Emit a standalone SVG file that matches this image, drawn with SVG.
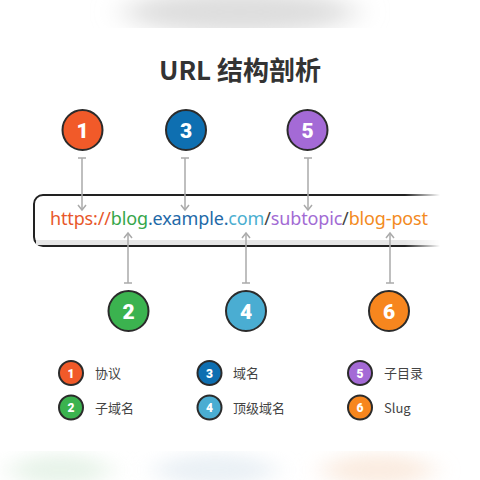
<svg xmlns="http://www.w3.org/2000/svg" width="480" height="480" viewBox="0 0 480 480">
<defs>
<style>
.num{font-family:"Roboto","DejaVu Sans",sans-serif;font-weight:900;fill:#fff;text-anchor:middle}
.big{font-size:21px}
.small{font-size:12px}
.node circle{stroke:#2b2b2b;stroke-width:2}
.lg text.lab{font-family:"Noto Sans CJK SC","Noto Sans",sans-serif;font-size:13px;fill:#444}
.conn line{stroke:#aaaaaa;stroke-width:1.5;fill:none}
.conn path{stroke:#aaaaaa;stroke-width:1.5;fill:none}
</style>
<filter id="blur" x="-50%" y="-100%" width="200%" height="300%"><feGaussianBlur stdDeviation="16 10"/></filter>
<filter id="blur2" x="-50%" y="-100%" width="200%" height="300%"><feGaussianBlur stdDeviation="14 8"/></filter>
<clipPath id="topclip"><rect x="0" y="0" width="480" height="28"/></clipPath>
<clipPath id="botclip"><rect x="0" y="451" width="480" height="29"/></clipPath>
<linearGradient id="fade" x1="0" y1="0" x2="1" y2="0">
<stop offset="0.92" stop-color="#fff"/>
<stop offset="1" stop-color="#fff" stop-opacity="0"/>
</linearGradient>
<mask id="boxmask" maskUnits="userSpaceOnUse" x="0" y="180" width="480" height="80">
<rect x="0" y="180" width="440" height="80" fill="url(#fade)"/>
</mask>
</defs>
<rect width="480" height="480" fill="#ffffff"/>
<g clip-path="url(#topclip)">
<ellipse cx="240" cy="12" rx="115" ry="22" fill="#dedede" filter="url(#blur)"/>
</g>
<g clip-path="url(#botclip)" opacity="0.6">
<ellipse cx="60" cy="470" rx="50" ry="16" fill="#d9ecdc" filter="url(#blur2)"/>
<ellipse cx="215" cy="470" rx="60" ry="16" fill="#dde7ef" filter="url(#blur2)"/>
<ellipse cx="378" cy="470" rx="55" ry="16" fill="#f8e0cd" filter="url(#blur2)"/>
</g>
<text x="240" y="80" text-anchor="middle" font-family="'Noto Sans CJK SC','Noto Sans',sans-serif" font-weight="700" font-size="26" fill="#333">URL 结构剖析</text>
<g id="urlbox" mask="url(#boxmask)">
<rect x="34" y="195" width="460" height="51" rx="9" fill="#fff" stroke="#222" stroke-width="2"/>
<rect x="36" y="240" width="456" height="5" fill="#e6e6e6"/>
</g>
<text id="url" x="50" y="225" textLength="378" lengthAdjust="spacing" font-family="'Noto Sans','Liberation Sans',sans-serif" font-size="18"><tspan fill="#e8582b">https://</tspan><tspan fill="#35a64a">blog</tspan><tspan fill="#1f6aa8">.example.</tspan><tspan fill="#4aaed0">com</tspan><tspan fill="#444">/</tspan><tspan fill="#a26bd4">subtopic</tspan><tspan fill="#444">/</tspan><tspan fill="#f38a22">blog-post</tspan></text>
<g id="connectors" class="conn">
<line x1="82" y1="158" x2="82" y2="210"/><line x1="78" y1="158" x2="86" y2="158"/><path d="M78 205 L82 210 L86 205"/>
<line x1="185" y1="158" x2="185" y2="210"/><line x1="181" y1="158" x2="189" y2="158"/><path d="M181 205 L185 210 L189 205"/>
<line x1="308" y1="158" x2="308" y2="210"/><line x1="304" y1="158" x2="312" y2="158"/><path d="M304 205 L308 210 L312 205"/>
<line x1="128" y1="233" x2="128" y2="283"/><line x1="124" y1="283" x2="132" y2="283"/><path d="M124 238 L128 233 L132 238"/>
<line x1="246" y1="233" x2="246" y2="283"/><line x1="242" y1="283" x2="250" y2="283"/><path d="M242 238 L246 233 L250 238"/>
<line x1="390" y1="233" x2="390" y2="283"/><line x1="386" y1="283" x2="394" y2="283"/><path d="M386 238 L390 233 L394 238"/>
</g>
<g id="n1" class="node"><circle cx="82.5" cy="130" r="20" fill="#f15a29"/><text class="num big" x="82.5" y="137.5">1</text></g>
<g id="n3" class="node"><circle cx="186" cy="130" r="20" fill="#0e6fb1"/><text class="num big" x="186" y="137.5">3</text></g>
<g id="n5" class="node"><circle cx="307.5" cy="130" r="20" fill="#a46ad6"/><text class="num big" x="307.5" y="137.5">5</text></g>
<g id="n2" class="node"><circle cx="128.5" cy="311" r="20" fill="#3bb34f"/><text class="num big" x="128.5" y="318.5">2</text></g>
<g id="n4" class="node"><circle cx="246" cy="311" r="20" fill="#4aadd2"/><text class="num big" x="246" y="318.5">4</text></g>
<g id="n6" class="node"><circle cx="389" cy="311" r="20" fill="#f7861e"/><text class="num big" x="389" y="318.5">6</text></g>
<g id="legend" class="lg">
<g id="l1" class="node"><circle cx="71" cy="373" r="12" fill="#f15a29"/><text class="num small" x="71" y="377.5">1</text><text class="lab" x="95" y="378">协议</text></g>
<g id="l2" class="node"><circle cx="71" cy="407.5" r="12" fill="#3bb34f"/><text class="num small" x="71" y="412">2</text><text class="lab" x="95" y="412.5">子域名</text></g>
<g id="l3" class="node"><circle cx="209.5" cy="373" r="12" fill="#0e6fb1"/><text class="num small" x="209.5" y="377.5">3</text><text class="lab" x="233" y="378">域名</text></g>
<g id="l4" class="node"><circle cx="209.5" cy="407.5" r="12" fill="#4aadd2"/><text class="num small" x="209.5" y="412">4</text><text class="lab" x="233" y="412.5">顶级域名</text></g>
<g id="l5" class="node"><circle cx="360" cy="373" r="12" fill="#a46ad6"/><text class="num small" x="360" y="377.5">5</text><text class="lab" x="384" y="378">子目录</text></g>
<g id="l6" class="node"><circle cx="360" cy="407.5" r="12" fill="#f7861e"/><text class="num small" x="360" y="412">6</text><text class="lab" x="384" y="412.5">Slug</text></g>
</g>
</svg>
